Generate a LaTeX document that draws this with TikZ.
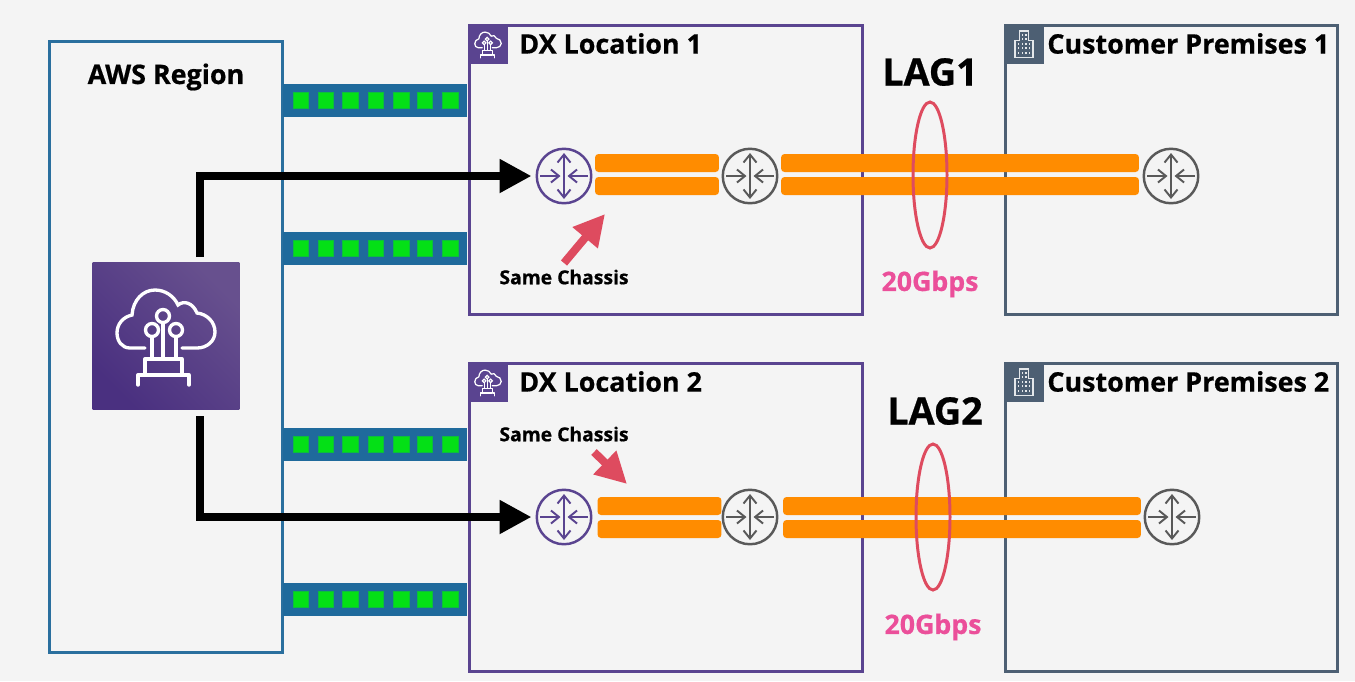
\documentclass[tikz,border=0pt]{standalone}
\usepackage{fontspec}
\setmainfont[BoldFeatures={FakeBold=0.6}]{Open Sans}
\usepackage{xcolor}
\usetikzlibrary{arrows.meta, positioning, shapes.geometric}
\definecolor{pagegrey}{HTML}{F4F4F4}
\definecolor{regionblue}{HTML}{2A6F9E}
\definecolor{bandblue}{HTML}{1F6A9C}
\definecolor{portgreen}{HTML}{04E016}
\definecolor{dxpurple}{HTML}{5A4490}
\definecolor{iconlight}{HTML}{67508E}
\definecolor{icondark}{HTML}{4A3080}
\definecolor{custgrey}{HTML}{4D5F73}
\definecolor{routergrey}{HTML}{595959}
\definecolor{barorange}{HTML}{FF8C00}
\definecolor{lagred}{HTML}{DE4B5F}
\definecolor{ratepink}{HTML}{EB4F9A}
\tikzset{
  areabox/.style={draw=#1,line width=0.06cm,fill=none,inner sep=0pt,minimum width=0pt},
  title/.style={font=\bfseries\fontsize{15.3pt}{18pt}\selectfont,inner sep=0pt},
  router/.style={circle,draw=#1,line width=1.4pt,minimum size=1.09cm,inner sep=0pt,fill=pagegrey,
    path picture={\draw[#1,line width=1.1pt,{Straight Barb[length=1.6mm,width=2.6mm]}-{Straight Barb[length=1.6mm,width=2.6mm]},
        shift={(path picture bounding box.center)}] (0,-23) -- (0,23);
      \draw[#1,line width=1.1pt,-{Straight Barb[length=1.6mm,width=2.6mm]},shift={(path picture bounding box.center)}] (-24,0) -- (-3.5,0);
      \draw[#1,line width=1.1pt,-{Straight Barb[length=1.6mm,width=2.6mm]},shift={(path picture bounding box.center)}] (24,0) -- (3.5,0);}},
  bar/.style={fill=barorange,rounded corners=0.07cm,inner sep=0pt,minimum height=0.36cm},
  band/.style={fill=bandblue,inner sep=0pt,minimum width=3.68cm,minimum height=0.66cm},
  port/.style={fill=portgreen,draw=portgreen!70!bandblue,line width=0.2pt,inner sep=0pt,minimum size=0.31cm},
  lag/.style={ellipse,draw=lagred,line width=1.7pt,inner sep=0pt,minimum width=0.68cm,minimum height=2.92cm},
  lagtext/.style={font=\bfseries\fontsize{21.5pt}{26pt}\selectfont,inner sep=0pt},
  rate/.style={font=\bfseries\fontsize{15.2pt}{18pt}\selectfont,text=ratepink,inner sep=0pt},
  chassis/.style={font=\bfseries\fontsize{11pt}{13pt}\selectfont,inner sep=0pt},
  flow/.style={line width=0.16cm,draw=black,shorten >=0.08cm,-{Triangle[length=0.64cm,width=0.64cm]}},
  pointer/.style={line width=0.16cm,draw=lagred,-{Triangle[length=0.62cm,width=0.62cm]}},
  pics/cloudicon/.style={code={
    \draw[white,line width=#1,line cap=round] (-21,12) -- (-36,12) .. controls (-44,12) and (-49,5) .. (-49,-3)
      .. controls (-49,-12) and (-43,-19) .. (-34,-21) .. controls (-33,-36) and (-23,-46) .. (-11,-46)
      .. controls (-1,-46) and (8,-40) .. (12,-31) .. controls (18,-36) and (27,-33) .. (31,-23)
      .. controls (41,-22) and (49,-14) .. (49,-4) .. controls (49,5) and (41,12) .. (31,12) -- (16,12);
    \draw[white,line width=#1] (-3,-20) circle (6.5) (-14,-6) circle (6.5) (10,-6) circle (6.5);
    \draw[white,line width=#1] (-14,0.5) -- (-14,23) (-3,-13.5) -- (-3,23) (10,0.5) -- (10,23);
    \draw[white,line width=#1,line cap=round,line join=round] (-28,49) -- (-28,39) -- (-21,39) -- (-21,23) -- (16,23) -- (16,39) -- (23,39) -- (23,49);
    \draw[white,line width=#1] (-21,39) -- (16,39);
  }},
  pics/buildingicon/.style={code={
    \draw[white!85!custgrey,line width=0.6pt] (-9,13) -- (-9,-4) -- (-4.5,-4) -- (-4.5,-13.5) -- (4.5,-13.5) -- (4.5,-4) -- (9,-4) -- (9,13) -- cycle;
    \foreach \bx in {-5.5,-1.8,1.8,5.5} \foreach \by in {-1,3.5,8} \fill[white!85!custgrey] (\bx-0.7,\by-1) rectangle (\bx+0.7,\by+1);
    \foreach \bx in {-1.8,1.8} \foreach \by in {-10,-5.5} \fill[white!85!custgrey] (\bx-0.7,\by-1) rectangle (\bx+0.7,\by+1);
  }}
}
\begin{document}
\begin{tikzpicture}[x=0.02cm,y=-0.02cm]
\useasboundingbox (0,0) rectangle (1355,681);
\fill[pagegrey] (0,0) rectangle (1355,681);
% boxes
\node[areabox=regionblue,minimum width=4.68cm,minimum height=12.24cm] (region) at (166,347) {};
\node[areabox=dxpurple,minimum width=7.88cm,minimum height=5.8cm] (dxa) at (666,170) {};
\node[areabox=dxpurple,minimum width=7.88cm,minimum height=6.18cm] (dxb) at (666,517.5) {};
\node[areabox=custgrey,minimum width=6.66cm,minimum height=5.8cm] (cusa) at (1171.5,170) {};
\node[areabox=custgrey,minimum width=6.66cm,minimum height=6.18cm] (cusb) at (1171.5,517.5) {};
\node[title,anchor=center] (regionlabel) at (166,77) {AWS Region};
% ports
\foreach \rowname/\rowy in {p/100,q/248,r/444,s/599}{
  \node[band] (\rowname band) at (375,\rowy) {};
  \foreach \portx in {300.5,325.5,350,375.5,401,424.5,450}
    \node[port] at (\portx,\rowy) {};
}
% corner tabs
\node[fill=dxpurple,inner sep=0pt,minimum size=0.78cm] (dxatab) at (488,44.5) {};
\node[fill=dxpurple,inner sep=0pt,minimum size=0.78cm] (dxbtab) at (488,382.5) {};
\node[fill=custgrey,inner sep=0pt,minimum size=0.78cm] (cusatab) at (1024,44.5) {};
\node[fill=custgrey,inner sep=0pt,minimum size=0.78cm] (cusbtab) at (1024,382.5) {};
\path (dxatab) pic[scale=0.27] {cloudicon=0.7pt};
\path (dxbtab) pic[scale=0.27] {cloudicon=0.7pt};
\path (cusatab) pic {buildingicon};
\path (cusbtab) pic {buildingicon};
\node[title,anchor=west] (dxalabel) at (519,43.5) {DX Location 1};
\node[title,anchor=west] (dxblabel) at (519,381.5) {DX Location 2};
\node[title,anchor=west] (cusalabel) at (1047,43.5) {Customer Premises 1};
\node[title,anchor=west] (cusblabel) at (1047,381.5) {Customer Premises 2};
% lag 1
\node[router=dxpurple] (ra) at (564,176) {};
\node[router=routergrey] (rb) at (750,176) {};
\node[router=routergrey] (rc) at (1171,176) {};
\node[bar,minimum width=2.48cm] (aone) at (657,163) {};
\node[bar,minimum width=2.48cm] (atwo) at (657,186) {};
\node[bar,minimum width=7.16cm] (bone) at (960,163) {};
\node[bar,minimum width=7.16cm] (btwo) at (960,186) {};
\node[lag] (lagone) at (930,175) {};
\node[lagtext] (lagonelabel) at (930,72) {LAG1};
\node[rate] (rateone) at (930,284) {20Gbps};
\node[chassis] (chassisone) at (564,277) {Same Chassis};
% lag 2
\node[router=dxpurple] (sa) at (564,517) {};
\node[router=routergrey] (sb) at (750,517) {};
\node[router=routergrey] (sc) at (1172,517) {};
\node[bar,minimum width=2.48cm] (cone) at (659.5,506) {};
\node[bar,minimum width=2.48cm] (ctwo) at (659.5,529) {};
\node[bar,minimum width=7.16cm] (done) at (962,506) {};
\node[bar,minimum width=7.16cm] (dtwo) at (962,529) {};
\node[lag] (lagtwo) at (933,517) {};
\node[lagtext] (lagtwolabel) at (935,411) {LAG2};
\node[rate] (ratetwo) at (933,627) {20Gbps};
\node[chassis] (chassistwo) at (564,434) {Same Chassis};
% vpn icon
\node[inner sep=0pt,minimum size=2.94cm,bottom color=icondark,top color=iconlight,shading angle=-45] (icon) at (166,336) {};
\path (icon) pic {cloudicon=1.9pt};
\coordinate (upstart) at (200,257);
\coordinate (downstart) at (200,416);
\draw[flow] (upstart) |- (ra.west);
\draw[flow] (downstart) |- (sa.west);
\coordinate (pointone) at (564,263);
\coordinate (pointonetip) at (605,214);
\coordinate (pointtwo) at (594,452);
\coordinate (pointtwotip) at (627,484);
\draw[pointer] (pointone) -- (pointonetip);
\draw[pointer] (pointtwo) -- (pointtwotip);
\end{tikzpicture}
\end{document}
